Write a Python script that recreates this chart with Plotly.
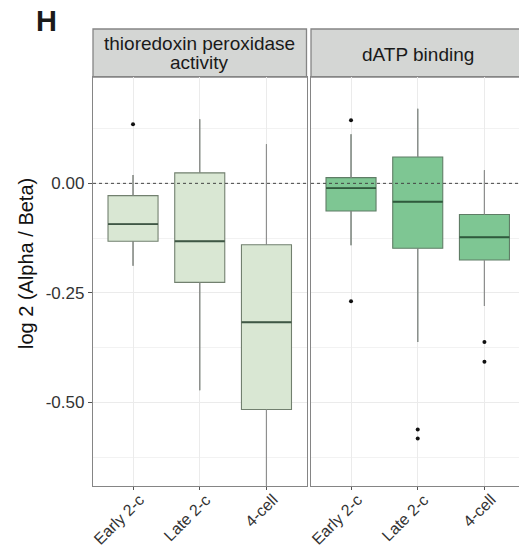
import plotly.graph_objects as go

# ---- data -------------------------------------------------------------
stages = ["Early 2-c", "Late 2-c", "4-cell"]
stage_pos = [1, 2, 3]

panel_titles = ["thioredoxin peroxidase", "dATP binding"]
panel_title_line2 = ["activity", ""]

# per-panel box statistics (one value per stage)
trx_lower = [-0.188, -0.472, -0.760]
trx_q1 = [-0.132, -0.226, -0.516]
trx_median = [-0.093, -0.132, -0.317]
trx_q3 = [-0.028, 0.024, -0.140]
trx_upper = [0.019, 0.146, 0.089]
trx_out_x = ["Early 2-c"]
trx_out_y = [0.135]

datp_lower = [-0.141, -0.362, -0.280]
datp_q1 = [-0.063, -0.148, -0.175]
datp_median = [-0.011, -0.042, -0.123]
datp_q3 = [0.013, 0.060, -0.071]
datp_upper = [0.112, 0.170, 0.030]
datp_out_x = ["Early 2-c", "Early 2-c", "Late 2-c", "Late 2-c", "4-cell", "4-cell"]
datp_out_y = [0.144, -0.269, -0.562, -0.582, -0.362, -0.407]

y_ticks = [-0.50, -0.25, 0.00]
y_ticklabels = ["-0.50", "-0.25", "0.00"]

# ---- styling ------------------------------------------------------------
W, H = 519, 553
FONT = "Liberation Sans, Arial, sans-serif"
BOX_W = 0.75
fills = ["#d9e7d3", "#7ec693"]
edges = ["#72806f", "#5f7d66"]
medians = ["#3f5745", "#2f5a3c"]
WHISKER = "#8f8f8f"
BORDER = "#858585"
GRID = "#ebebeb"


def px_x(p):
    return p / W


def px_y(p):
    return 1 - p / H


panels = [
    dict(lower=trx_lower, q1=trx_q1, med=trx_median, q3=trx_q3, upper=trx_upper,
         ox=trx_out_x, oy=trx_out_y, xa="x", ya="y"),
    dict(lower=datp_lower, q1=datp_q1, med=datp_median, q3=datp_q3, upper=datp_upper,
         ox=datp_out_x, oy=datp_out_y, xa="x2", ya="y2"),
]

fig = go.Figure()
for k, p in enumerate(panels):
    fig.add_trace(go.Box(
        x=stage_pos, q1=p["q1"], median=p["med"], q3=p["q3"],
        lowerfence=p["lower"], upperfence=p["upper"],
        width=BOX_W, whiskerwidth=0, boxpoints=False,
        fillcolor=fills[k], line=dict(color=edges[k], width=1.1),
        xaxis=p["xa"], yaxis=p["ya"], showlegend=False, hoverinfo="skip",
    ))
    # whiskers in grey, drawn over the box trace's own whiskers
    wx, wy = [], []
    for i, xv in enumerate(stage_pos):
        wx += [xv, xv, None, xv, xv, None]
        wy += [p["q3"][i], p["upper"][i], None, p["q1"][i], p["lower"][i], None]
    fig.add_trace(go.Scatter(x=wx, y=wy, mode="lines",
                             line=dict(color=WHISKER, width=1.1),
                             xaxis=p["xa"], yaxis=p["ya"], showlegend=False,
                             hoverinfo="skip", cliponaxis=True))
    # darker median bars
    mx, my = [], []
    for i, xv in enumerate(stage_pos):
        mx += [xv - BOX_W / 2, xv + BOX_W / 2, None]
        my += [p["med"][i], p["med"][i], None]
    fig.add_trace(go.Scatter(x=mx, y=my, mode="lines",
                             line=dict(color=medians[k], width=1.9),
                             xaxis=p["xa"], yaxis=p["ya"], showlegend=False,
                             hoverinfo="skip"))
    # outliers
    ox = [stage_pos[stages.index(s)] for s in p["ox"]]
    fig.add_trace(go.Scatter(x=ox, y=p["oy"], mode="markers",
                             marker=dict(color="#111111", size=4),
                             xaxis=p["xa"], yaxis=p["ya"], showlegend=False,
                             hoverinfo="skip"))

y_dom = [px_y(485.7), px_y(77)]
y_rng = [-0.690, 0.2427]
x_doms = [[px_x(93), px_x(306.5)], [px_x(311), 1.0]]
x_rngs = [[0.4, 3.6], [0.4, 3.518]]

xaxis_common = dict(
    tickmode="array", tickvals=stage_pos, showticklabels=False,
    showgrid=True, gridcolor=GRID, gridwidth=1,
    ticks="outside", ticklen=3, tickcolor="#555555",
    showline=True, linecolor=BORDER, linewidth=1.3, mirror=True,
    zeroline=False, automargin=False,
)
yaxis_common = dict(
    range=y_rng, domain=y_dom,
    tickmode="array", tickvals=y_ticks,
    showgrid=True, gridcolor=GRID, gridwidth=1,
    minor=dict(tickmode="array", tickvals=[-0.625, -0.375, -0.125, 0.125],
               showgrid=True, gridcolor="#f2f2f2", gridwidth=0.8, ticks=""),
    showline=True, linecolor=BORDER, linewidth=1.3,
    zeroline=False, automargin=False,
)

fig.update_layout(
    width=W, height=H,
    margin=dict(l=0, r=0, t=0, b=0, pad=0, autoexpand=False),
    paper_bgcolor="white", plot_bgcolor="white",
    showlegend=False,
    xaxis=dict(xaxis_common, domain=x_doms[0], range=x_rngs[0], anchor="y"),
    xaxis2=dict(xaxis_common, domain=x_doms[1], range=x_rngs[1], anchor="y2"),
    yaxis=dict(yaxis_common, anchor="x", ticktext=y_ticklabels, mirror=True,
               ticks="outside", ticklen=4, tickcolor="#555555",
               tickfont=dict(family=FONT, size=17, color="#333333")),
    yaxis2=dict(yaxis_common, anchor="x2", showticklabels=False, ticks="",
                mirror=False),
)

shapes = []
# dashed reference line at zero in each panel
for xa, ya, rng in [("x", "y", x_rngs[0]), ("x2", "y2", x_rngs[1])]:
    shapes.append(dict(type="line", xref=xa, yref=ya, x0=rng[0], x1=rng[1],
                       y0=0, y1=0, line=dict(color="#444444", width=1, dash="3px,3px"),
                       layer="above"))
# facet strips
strip_y = [px_y(77), px_y(29)]
for dom in x_doms:
    shapes.append(dict(type="rect", xref="paper", yref="paper",
                       x0=dom[0], x1=dom[1] if dom[1] < 1 else 1.01,
                       y0=strip_y[0], y1=strip_y[1],
                       fillcolor="#d4d6d4", line=dict(color=BORDER, width=1.3),
                       layer="below"))
fig.update_layout(shapes=shapes)

ann = []
# rotated stage labels under each panel
for xa in ["x", "x2"]:
    for pos, lab in zip(stage_pos, stages):
        ann.append(dict(text=lab, x=pos, y=px_y(488), xref=xa, yref="paper",
                        showarrow=False, textangle=-45, xanchor="right", yanchor="top",
                        xshift=17, font=dict(family=FONT, size=16, color="#333333")))

strip_font = dict(family=FONT, size=19, color="#1a1a1a")
mid_left = (x_doms[0][0] + x_doms[0][1]) / 2
mid_right = (x_doms[1][0] + px_x(519 + 6)) / 2
ann.append(dict(text=panel_titles[0], x=mid_left, y=px_y(43), xref="paper", yref="paper",
                showarrow=False, font=strip_font, xanchor="center", yanchor="middle"))
ann.append(dict(text=panel_title_line2[0], x=mid_left, y=px_y(63), xref="paper", yref="paper",
                showarrow=False, font=strip_font, xanchor="center", yanchor="middle"))
ann.append(dict(text=panel_titles[1], x=mid_right, y=px_y(54), xref="paper", yref="paper",
                showarrow=False, font=strip_font, xanchor="center", yanchor="middle"))
# y-axis title
ann.append(dict(text="log 2 (Alpha / Beta)", x=px_x(26), y=px_y(264), xref="paper",
                yref="paper", showarrow=False, textangle=-90,
                font=dict(family=FONT, size=20, color="#111111"),
                xanchor="center", yanchor="middle"))
# panel letter
ann.append(dict(text="<b>H</b>", x=px_x(46), y=px_y(21), xref="paper", yref="paper",
                showarrow=False, font=dict(family=FONT, size=29, color="#1a1a1a"),
                xanchor="center", yanchor="middle"))
fig.update_layout(annotations=ann)

fig.write_html("out.html")
